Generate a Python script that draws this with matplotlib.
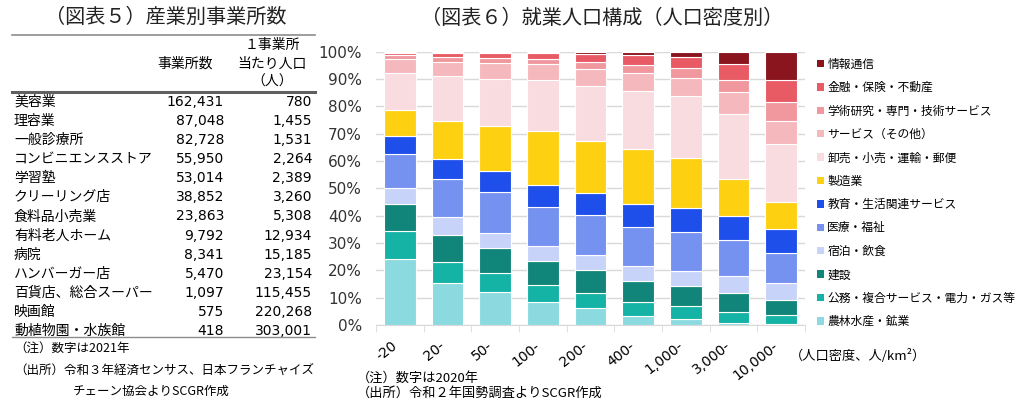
import numpy as np
import matplotlib
matplotlib.use("Agg")
import matplotlib.pyplot as plt
import matplotlib.transforms as mtrans
from matplotlib.lines import Line2D
from matplotlib.patches import Patch

plt.rcParams['font.family'] = ['Noto Sans CJK JP', 'DejaVu Sans']

W, H = 1024, 404

# --- 図表5 : 産業別事業所数 ---
industries = ["美容業", "理容業", "一般診療所", "コンビニエンスストア", "学習塾", "クリーリング店",
              "食料品小売業", "有料老人ホーム", "病院", "ハンバーガー店", "百貨店、総合スーパー",
              "映画館", "動植物園・水族館"]
office_counts = [162431, 87048, 82728, 55950, 53014, 38852, 23863, 9792, 8341, 5470, 1097, 575, 418]
pop_per_office = [780, 1455, 1531, 2264, 2389, 3260, 5308, 12934, 15185, 23154, 115455, 220268, 303001]

# --- 図表6 : 就業人口構成（人口密度別） ---
density = ["-20", "20-", "50-", "100-", "200-", "400-", "1,000-", "3,000-", "10,000-"]
# 下から順に積み上げ (%)
nourin = [24.0, 15.2, 12.0, 8.5, 6.2, 3.4, 2.2, 0.9, 0.3]
koumu = [10.4, 7.7, 6.9, 6.0, 5.6, 5.0, 4.6, 4.0, 3.2]
kensetsu = [9.7, 10.1, 9.3, 8.9, 8.3, 7.6, 7.5, 6.8, 5.6]
shukuhaku = [6.1, 6.4, 5.5, 5.5, 5.4, 5.6, 5.5, 6.2, 6.4]
iryou = [12.2, 13.9, 14.8, 14.4, 14.6, 14.1, 14.2, 13.3, 10.7]
kyouiku = [6.7, 7.3, 7.7, 7.9, 8.3, 8.6, 8.9, 8.7, 8.8]
seizou = [9.6, 14.2, 16.6, 19.7, 18.9, 20.0, 18.3, 13.6, 10.1]
oroshi = [13.4, 16.3, 17.3, 18.6, 20.3, 21.4, 22.6, 23.7, 21.0]
service = [5.3, 5.1, 5.6, 5.9, 5.9, 6.4, 6.7, 7.9, 8.4]
gakujutsu = [1.3, 1.7, 2.0, 2.0, 2.6, 3.0, 3.4, 4.4, 7.1]
kinyuu = [0.7, 1.6, 1.7, 2.2, 2.9, 3.8, 4.3, 5.9, 8.0]
jouhou = [0.6, 0.5, 0.6, 0.4, 1.0, 1.1, 1.8, 4.6, 10.4]

series = [nourin, koumu, kensetsu, shukuhaku, iryou, kyouiku, seizou, oroshi, service,
          gakujutsu, kinyuu, jouhou]
labels = ["農林水産・鉱業", "公務・複合サービス・電力・ガス等", "建設", "宿泊・飲食", "医療・福祉",
          "教育・生活関連サービス", "製造業", "卸売・小売・運輸・郵便", "サービス（その他）",
          "学術研究・専門・技術サービス", "金融・保険・不動産", "情報通信"]
colors = ["#8ADADF", "#14B3A6", "#11857A", "#C8D3FA", "#7592F0", "#1F4FEA", "#FDD112",
          "#F9DCDF", "#F5B8BC", "#F0989E", "#E85A64", "#8B151E"]


def fx(x):
    return x / W


def fy(y):
    return 1 - y / H


fig = plt.figure(figsize=(W / 100, H / 100), dpi=100)

# 表
fig.text(fx(166), fy(17), "（図表５）産業別事業所数", fontsize=14.5, ha="center", va="center", color="#222222")
fig.add_artist(Line2D([fx(12), fx(315)], [fy(34.5), fy(34.5)], color="#8c8c8c", lw=1.2))
fig.add_artist(Line2D([fx(12), fx(315)], [fy(92), fy(92)], color="#606060", lw=2.2))
fig.add_artist(Line2D([fx(12), fx(315)], [fy(337), fy(337)], color="#8c8c8c", lw=1.0))

fig.text(fx(185), fy(64), "事業所数", fontsize=10, ha="center", va="center")
fig.text(fx(272), fy(45), "１事業所", fontsize=10, ha="center", va="center")
fig.text(fx(272), fy(64), "当たり人口", fontsize=10, ha="center", va="center")
fig.text(fx(272), fy(82), "（人）", fontsize=10, ha="center", va="center")

row_y = np.linspace(102, 331, len(industries))
for y, name, n, p in zip(row_y, industries, office_counts, pop_per_office):
    fig.text(fx(14), fy(y), name, fontsize=10, ha="left", va="center")
    fig.text(fx(224), fy(y), f"{n:,}", fontsize=10, ha="right", va="center", family="DejaVu Sans")
    fig.text(fx(312), fy(y), f"{p:,}", fontsize=10, ha="right", va="center", family="DejaVu Sans")

fig.text(fx(14), fy(348), "（注）数字は2021年", fontsize=9, ha="left", va="center")
fig.text(fx(14), fy(370), "（出所）令和３年経済センサス、日本フランチャイズ", fontsize=9, ha="left", va="center")
fig.text(fx(73), fy(391), "チェーン協会よりSCGR作成", fontsize=9, ha="left", va="center")

# 積み上げ棒グラフ
ax = fig.add_axes([fx(376), fy(325), (805 - 376) / W, (325 - 51.7) / H])
x = np.arange(len(density))
bottom = np.zeros(len(density))
for vals, lab, c in zip(series, labels, colors):
    ax.bar(x, vals, bottom=bottom, width=0.67, color=c, edgecolor="white", linewidth=0.8, label=lab, zorder=3)
    bottom += np.array(vals)

ax.set_xlim(-0.5, len(density) - 0.5)
ax.set_ylim(0, 100)
ax.set_yticks(np.arange(0, 101, 10))
ax.set_yticklabels([f"{v}%" for v in range(0, 101, 10)], family="DejaVu Sans", fontsize=11, color="#333333")
ax.yaxis.grid(True, color="#d9d9d9", lw=1, zorder=0)
ax.set_xticks(x)
ax.set_xticklabels(density, rotation=38, ha="right", va="top", family="DejaVu Sans", fontsize=10)
shift = mtrans.ScaledTranslation(6 / 100, 0, fig.dpi_scale_trans)
for t in ax.get_xticklabels():
    t.set_transform(t.get_transform() + shift)
ax.set_xticks(np.arange(-0.5, len(density)), minor=True)
ax.tick_params(axis="x", which="major", length=0, pad=10)
ax.tick_params(axis="x", which="minor", length=5, color="#d9d9d9")
ax.tick_params(axis="y", length=0, pad=10)
for s in ["top", "right", "left"]:
    ax.spines[s].set_visible(False)
ax.spines["bottom"].set_color("#d9d9d9")

fig.text(fx(602), fy(18), "（図表６）就業人口構成（人口密度別）", fontsize=14.5, ha="center", va="center", color="#222222")
fig.text(fx(790), fy(356), "（人口密度、人/km²）", fontsize=9.5, ha="left", va="center")
fig.text(fx(357), fy(378), "（注）数字は2020年", fontsize=9.5, ha="left", va="center")
fig.text(fx(357), fy(393), "（出所）令和２年国勢調査よりSCGR作成", fontsize=9.5, ha="left", va="center")

handles = [Patch(facecolor=c, edgecolor="none") for c in colors][::-1]
fig.legend(handles, labels[::-1], loc="upper left", bbox_to_anchor=(fx(812), fy(53)),
           frameon=False, fontsize=8.5, handlelength=0.6, handleheight=0.6, handletextpad=0.3,
           labelspacing=0.88, borderaxespad=0)

fig.savefig("out.png", dpi=100)
